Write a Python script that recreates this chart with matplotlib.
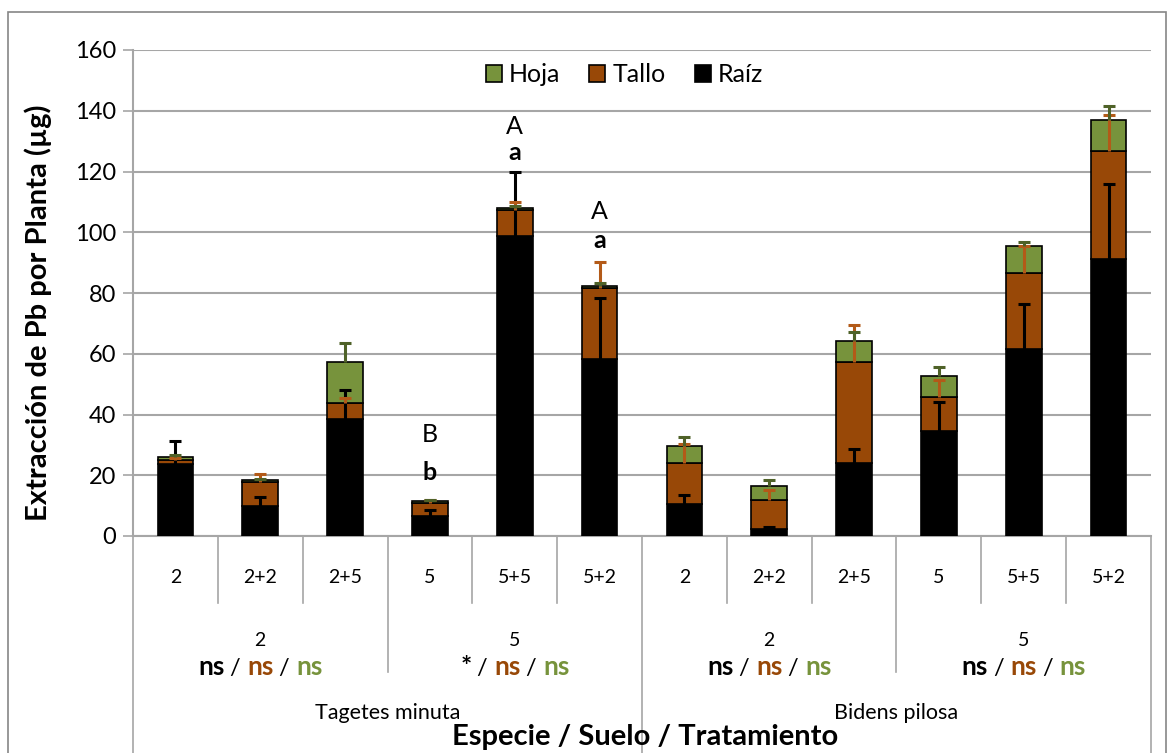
import numpy as np
import matplotlib
matplotlib.use("Agg")
import matplotlib.pyplot as plt
from matplotlib.patches import Patch, Rectangle
from matplotlib.transforms import blended_transform_factory
from matplotlib.offsetbox import TextArea, HPacker, AnnotationBbox

plt.rcParams['font.family'] = ['Lato', 'DejaVu Sans']

# ---- data -------------------------------------------------------------
treatments = ['2', '2+2', '2+5', '5', '5+5', '5+2',
              '2', '2+2', '2+5', '5', '5+5', '5+2']
soils = ['2', '5', '2', '5']
species = ['Tagetes minuta', 'Bidens pilosa']

raiz = [23.8, 9.9, 38.5, 6.6, 98.9, 58.3, 10.5, 2.2, 23.9, 34.6, 61.5, 91.1]
tallo = [1.2, 8.0, 5.2, 4.4, 8.4, 23.5, 13.6, 9.6, 33.3, 11.3, 25.0, 35.6]
hoja = [1.0, 0.5, 13.7, 0.6, 0.6, 0.6, 5.6, 4.7, 7.0, 6.8, 9.1, 10.3]

raiz_err = [7.5, 2.8, 9.6, 2.0, 21.0, 19.9, 3.0, 0.8, 4.7, 9.6, 14.8, 24.7]
tallo_err = [0.6, 2.5, 1.8, 1.0, 2.7, 8.4, 6.2, 3.3, 12.2, 5.6, 9.1, 12.0]
hoja_err = [0.6, 0.5, 6.0, 0.3, 0.6, 0.9, 3.0, 1.9, 2.9, 2.9, 1.3, 4.7]

# significance per soil group: (Raíz, Tallo, Hoja)
significance = [('ns', 'ns', 'ns'), ('*', 'ns', 'ns'),
                ('ns', 'ns', 'ns'), ('ns', 'ns', 'ns')]

# mean-separation letters: (bar index, upper letter, lower letter)
letters = [(3, 'B', 'b'), (4, 'A', 'a'), (5, 'A', 'a')]
letter_y = {3: (33.5, 20.8), 4: (134.7, 126.4), 5: (106.7, 97.4)}

# ---- styling ----------------------------------------------------------
c_hoja = '#77933C'
c_tallo = '#984807'
c_raiz = '#000000'
e_hoja = '#4F6228'
e_tallo = '#B35A18'
grid_c = '#A6A6A6'

fig = plt.figure(figsize=(11.69, 7.53), dpi=100)
ax = fig.add_axes([133 / 1169, 217 / 753, 1018 / 1169, 486 / 753])

x = np.arange(len(treatments))
raiz_a = np.array(raiz)
tallo_a = np.array(tallo)
hoja_a = np.array(hoja)

w = 0.42
ax.bar(x, raiz_a, w, color=c_raiz, edgecolor='black', linewidth=1.2, zorder=3)
ax.bar(x, tallo_a, w, bottom=raiz_a, color=c_tallo, edgecolor='black',
       linewidth=1.2, zorder=3)
ax.bar(x, hoja_a, w, bottom=raiz_a + tallo_a, color=c_hoja, edgecolor='black',
       linewidth=1.2, zorder=3)


def plus_errorbar(tops, err, color, z):
    err = np.array(err)
    _, caps, _ = ax.errorbar(x, tops, yerr=[np.zeros_like(err), err], fmt='none',
                             ecolor=color, elinewidth=2.2, capsize=4.3,
                             capthick=2.2, zorder=z)
    caps[0].set_visible(False)


plus_errorbar(raiz_a, raiz_err, c_raiz, 5)
plus_errorbar(raiz_a + tallo_a, tallo_err, e_tallo, 6)
plus_errorbar(raiz_a + tallo_a + hoja_a, hoja_err, e_hoja, 7)

for i, up, low in letters:
    yu, yl = letter_y[i]
    ax.text(x[i], yu, up, ha='center', va='center', fontsize=18, zorder=8)
    ax.text(x[i], yl, low, ha='center', va='center', fontsize=18,
            fontweight='bold', zorder=8)

ax.set_xlim(-0.5, len(treatments) - 0.5)
ax.set_ylim(0, 160)
ax.set_yticks(np.arange(0, 161, 20))
ax.tick_params(axis='y', labelsize=17, length=7.2, width=1.2, color=grid_c,
               direction='out', pad=5)
ax.tick_params(axis='x', bottom=False, labelbottom=False)
ax.yaxis.grid(True, color=grid_c, linewidth=1.5, zorder=0)
ax.set_axisbelow(True)
for s in ('top', 'right'):
    ax.spines[s].set_visible(False)
for s in ('left', 'bottom'):
    ax.spines[s].set_color(grid_c)
    ax.spines[s].set_linewidth(1.5)

ax.set_ylabel('Extracción de Pb por Planta (µg)', fontsize=21,
              fontweight='bold')
ax.yaxis.set_label_coords(-0.0796, 0.46)

# ---- multi-level category axis ---------------------------------------
tr = blended_transform_factory(ax.transData, ax.transAxes)
n = len(treatments)
for b in range(n + 1):
    if b in (0, n // 2, n):
        y_end = -0.47
    elif b % 3 == 0:
        y_end = -0.2798
    else:
        y_end = -0.1379
    ax.plot([b - 0.5, b - 0.5], [0, y_end], transform=tr, color=grid_c,
            linewidth=1.2, clip_on=False)

for i, t in enumerate(treatments):
    ax.text(x[i], -0.0844, t, transform=tr, ha='center', va='center', fontsize=14)

sig_colors = [c_raiz, c_tallo, c_hoja]
for g, s in enumerate(soils):
    cx = 3 * g + 1
    ax.text(cx, -0.214, s, transform=tr, ha='center', va='center', fontsize=14)
    parts = []
    for k, mark in enumerate(significance[g]):
        if k > 0:
            parts.append(TextArea(' / ', textprops=dict(fontsize=17, color='black')))
        parts.append(TextArea(mark, textprops=dict(fontsize=19, fontweight='bold',
                                                   color=sig_colors[k])))
    box = HPacker(children=parts, align='baseline', pad=0, sep=0)
    ab = AnnotationBbox(box, (cx, -0.2695), xycoords=tr, frameon=False,
                        box_alignment=(0.5, 0.5), annotation_clip=False)
    ax.add_artist(ab)

for j, sp in enumerate(species):
    ax.text(6 * j + 2.5, -0.364, sp, transform=tr, ha='center', va='center',
            fontsize=15.5)

ax.text(512 / 1018, -0.414, 'Especie / Suelo / Tratamiento',
        transform=ax.transAxes, ha='center', va='center', fontsize=21,
        fontweight='bold')

# ---- legend -----------------------------------------------------------
handles = [Patch(facecolor=c_hoja, edgecolor='black', linewidth=1.2),
           Patch(facecolor=c_tallo, edgecolor='black', linewidth=1.2),
           Patch(facecolor=c_raiz, edgecolor='black', linewidth=1.2)]
fig.legend(handles, ['Hoja', 'Tallo', 'Raíz'], loc='center',
           bbox_to_anchor=(624.5 / 1169, 1 - 75 / 753), ncol=3, frameon=False,
           fontsize=18, handlelength=0.64, handleheight=0.64,
           handletextpad=0.3, columnspacing=1.15)

# chart-area frame
fig.patches.append(Rectangle((8 / 1169, -0.01), 1158 / 1169, 1.01 - 12 / 753,
                             transform=fig.transFigure, fill=False,
                             edgecolor='#868686', linewidth=1.2))

fig.savefig('out.png', dpi=100)
